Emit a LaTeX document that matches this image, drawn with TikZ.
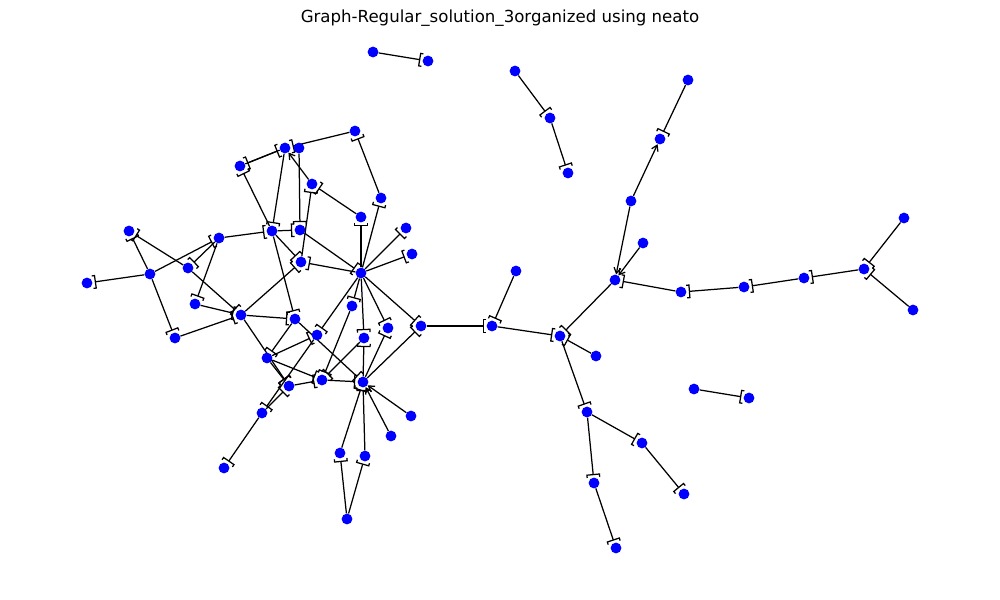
\documentclass[tikz,border=0pt]{standalone}
\usepackage{fontspec}
\setmainfont{DejaVu Sans}
\usepackage{tikz}
\usetikzlibrary{arrows.meta, backgrounds}

\begin{document}
\begin{tikzpicture}[x=0.0254cm, y=-0.0254cm,
  dot/.style = {circle, fill={rgb,255:red,0;green,0;blue,255}, inner sep=0pt, minimum size=7.8pt},
  link/.style = {line width=0.9pt, -{Bracket[reversed, width=10pt, length=2pt]}},
  barb/.style = {line width=0.9pt, -{Straight Barb[length=4pt, width=5pt]}}]
\useasboundingbox (0,0) rectangle (1000,600);
\node (title) at (500,18) {\fontsize{12}{14}\selectfont Graph-Regular\_solution\_3organized using neato};

% right part
\node[dot] (n1) at (373,52) {};
\node[dot] (n2) at (428,61) {};
\node[dot] (n3) at (515,71) {};
\node[dot] (n4) at (550,118) {};
\node[dot] (n5) at (568,173) {};
\node[dot] (n6) at (688,80) {};
\node[dot] (n7) at (660,139) {};
\node[dot] (n8) at (631,201) {};
\node[dot] (n9) at (615,280) {};
\node[dot] (n10) at (643,243) {};
\node[dot] (n11) at (681,292) {};
\node[dot] (n12) at (560,336) {};
\node[dot] (n13) at (744,287) {};
\node[dot] (n14) at (804,278) {};
\node[dot] (n15) at (864,269) {};
\node[dot] (n16) at (904,218) {};
\node[dot] (n17) at (913,310) {};
\node[dot] (n18) at (492,326) {};
\node[dot] (n19) at (596,356) {};
\node[dot] (n20) at (587,412) {};
\node[dot] (n21) at (516,271) {};
\node[dot] (n22) at (421,326) {};
\node[dot] (n23) at (642,443) {};
\node[dot] (n24) at (594,483) {};
\node[dot] (n25) at (684,494) {};
\node[dot] (n26) at (616,548) {};
\node[dot] (n27) at (694,389) {};
\node[dot] (n28) at (749,398) {};

% left cluster
\node[dot] (ha) at (361,273) {};
\node[dot] (hb) at (363,382) {};
\node[dot] (c1) at (355,131) {};
\node[dot] (c2) at (381,198) {};
\node[dot] (c3) at (299,148) {};
\node[dot] (c4) at (285,148) {};
\node[dot] (c5) at (240,166) {};
\node[dot] (c6) at (312,184) {};
\node[dot] (c7) at (361,217) {};
\node[dot] (c8) at (406,228) {};
\node[dot] (c9) at (412,254) {};
\node[dot] (c10) at (272,231) {};
\node[dot] (c11) at (300,230) {};
\node[dot] (c12) at (219,238) {};
\node[dot] (c13) at (301,262) {};
\node[dot] (c14) at (129,231) {};
\node[dot] (c15) at (150,274) {};
\node[dot] (c16) at (87,283) {};
\node[dot] (c17) at (188,268) {};
\node[dot] (c18) at (195,304) {};
\node[dot] (c19) at (175,338) {};
\node[dot] (c20) at (241,315) {};
\node[dot] (c21) at (295,319) {};
\node[dot] (c22) at (352,306) {};
\node[dot] (c23) at (317,335) {};
\node[dot] (c24) at (388,328) {};
\node[dot] (c25) at (364,338) {};
\node[dot] (c26) at (267,358) {};
\node[dot] (c27) at (289,386) {};
\node[dot] (c28) at (322,380) {};
\node[dot] (c29) at (262,413) {};
\node[dot] (c30) at (224,468) {};
\node[dot] (c31) at (411,416) {};
\node[dot] (c32) at (391,436) {};
\node[dot] (c33) at (340,453) {};
\node[dot] (c34) at (365,456) {};
\node[dot] (c35) at (347,519) {};

\begin{scope}[on background layer]
\draw[link] (n1) -- (n2);
\draw[link] (n3) -- (n4);
\draw[link] (n4) -- (n5);
\draw[link] (n6) -- (n7);
\draw[barb] (n8) -- (n7);
\draw[barb] (n8) -- (n9);
\draw[barb] (n10) -- (n9);
\draw[link] (n11) -- (n9);
\draw[link] (n9) -- (n12);
\draw[link] (n13) -- (n11);
\draw[link] (n14) -- (n13);
\draw[link] (n15) -- (n14);
\draw[link] (n16) -- (n15);
\draw[link] (n17) -- (n15);
\draw[link] (n21) -- (n18);
\draw[link] (n22) -- (n18);
\draw[link] (n18) -- (n12);
\draw[link] (n19) -- (n12);
\draw[link] (n12) -- (n20);
\draw[link] (n20) -- (n23);
\draw[link] (n23) -- (n25);
\draw[link] (n20) -- (n24);
\draw[link] (n24) -- (n26);
\draw[link] (n27) -- (n28);

\draw[link] (c2) -- (c1);
\draw[link] (c1) -- (c4);
\draw[link] (ha) -- (c2);
\draw[link] (c5) -- (c4);
\draw[link] (c4) -- (c5);
\draw[link] (c10) -- (c5);
\draw[link] (c4) -- (c10);
\draw[link] (c3) -- (c11);
\draw[link] (c10) -- (c11);
\draw[barb] (c6) -- (c4);
\draw[link] (c7) -- (c6);
\draw[link] (c13) -- (c6);
\draw[link] (ha) -- (c7);
\draw[link] (ha) -- (c8);
\draw[link] (ha) -- (c9);
\draw[link] (c11) -- (ha);
\draw[link] (ha) -- (c13);
\draw[link] (c10) -- (c13);
\draw[link] (c15) -- (c12);
\draw[link] (c12) -- (c10);
\draw[link] (c12) -- (c17);
\draw[link] (c12) -- (c18);
\draw[link] (c15) -- (c14);
\draw[link] (c17) -- (c14);
\draw[link] (c15) -- (c16);
\draw[link] (c15) -- (c19);
\draw[link] (c18) -- (c20);
\draw[link] (c19) -- (c20);
\draw[link] (c17) -- (c20);
\draw[link] (c20) -- (c13);
\draw[link] (c10) -- (c21);
\draw[link] (c20) -- (c21);
\draw[link] (c20) -- (c27);
\draw[link] (c21) -- (c26);
\draw[link] (c26) -- (c23);
\draw[link] (c26) -- (c27);
\draw[link] (c26) -- (c28);
\draw[link] (c27) -- (c28);
\draw[link] (c29) -- (c27);
\draw[link] (c23) -- (c29);
\draw[link] (ha) -- (c23);
\draw[link] (c29) -- (c30);
\draw[link] (ha) -- (c22);
\draw[link] (c22) -- (c28);
\draw[link] (c25) -- (c28);
\draw[link] (ha) -- (c24);
\draw[link] (hb) -- (c24);
\draw[link] (ha) -- (c25);
\draw[link] (hb) -- (c25);
\draw[link] (ha) -- (n22);
\draw[link] (hb) -- (n22);
\draw[link] (c28) -- (hb);
\draw[link] (c21) -- (hb);
\draw[link] (c33) -- (hb);
\draw[link] (c34) -- (hb);
\draw[barb] (c31) -- (hb);
\draw[barb] (c32) -- (hb);
\draw[link] (c35) -- (c33);
\draw[link] (c35) -- (c34);
\end{scope}
\end{tikzpicture}
\end{document}
